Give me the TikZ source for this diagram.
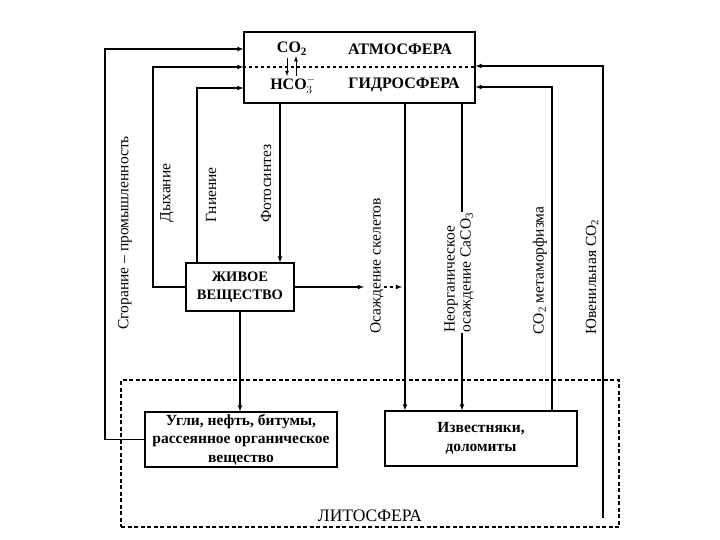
\documentclass[tikz,border=0pt]{standalone}
\usepackage{fontspec}
\setmainfont{Liberation Serif}

\begin{document}
\begin{tikzpicture}[x=1pt,y=-1pt,line width=1.1pt,
    box/.style={draw,align=center,inner sep=0pt,font=\fontsize{15.5}{18.5}\selectfont\bfseries},
    word/.style={inner sep=0pt,font=\fontsize{16}{18}\selectfont\bfseries},
    flow/.style={rotate=90,anchor=west,inner sep=0pt,align=left,font=\fontsize{15.5}{16}\selectfont}]
    \useasboundingbox (0,0) rectangle (720,540);
    % boxes
    \node[box,minimum width=231,minimum height=71] (sea) at (359.5,67.5) {};
    \node[box,minimum width=108,minimum height=48,font=\fontsize{14.5}{18}\selectfont\bfseries] (life) at (240,287) {ЖИВОЕ\\ВЕЩЕСТВО};
    \node[box,minimum width=192,minimum height=55] (coal) at (241,439.5) {Угли, нефть, битумы,\\рассеянное органическое\\вещество};
    \node[box,minimum width=192,minimum height=55] (lime) at (481,438.5) {Известняки,\\доломиты};
    \node[draw,dash pattern=on 4pt off 2.5pt,minimum width=498,minimum height=147] (litho) at (370,453.5) {};
    \node[inner sep=0pt,font=\fontsize{17.5}{19}\selectfont] (lithoname) at (370,516) {ЛИТОСФЕРА};
    % inside the top box
    \node[word] (co2) at (292,49) {CO\textsubscript{2}};
    \node[word] (hco3) at (293,85) {HCO$_{3}^{-}$};
    \node[word] (atmo) at (400,49) {АТМОСФЕРА};
    \node[word] (hydro) at (404,85) {ГИДРОСФЕРА};
    \draw[dashed] (sea.west |- 0,67) -- (sea.east |- 0,67);
    \draw[-latex,line width=0.8pt] ([xshift=-5]co2.south) ++(0,2) -- ([xshift=-6]hco3.north);
    \draw[-latex,line width=0.8pt] ([xshift=3]hco3.north) -- ([xshift=4]co2.south);
    % turning points
    \coordinate (burn) at (105,49);
    \coordinate (breath) at (153,67);
    \coordinate (rot) at (197,88);
    \coordinate (photo) at (280,0);
    \coordinate (skel) at (405,0);
    \coordinate (inorg) at (462,0);
    \coordinate (meta) at (552,87);
    \coordinate (juv) at (603,66);
    \coordinate (juvbot) at (603,518);
    \coordinate (skelgap) at (364,287);
    \coordinate (skelrun) at (384,287);
    % connectors
    \draw[-latex] (coal.west) -| (burn) -- (burn -| sea.west);
    \draw[-latex] (life.west) -| (breath) -- (breath -| sea.west);
    \draw[-latex] (life.north -| rot) -- (rot) -- (rot -| sea.west);
    \draw[-latex] (sea.south -| photo) -- (life.north -| photo);
    \draw[-latex] (sea.south -| skel) -- (lime.north -| skel);
    \draw[-latex] (sea.south -| inorg) -- (lime.north -| inorg);
    \draw[-latex] (lime.north -| meta) -- (meta) -- (meta -| sea.east);
    \draw[-latex] (juvbot) -- (juv) -- (juv -| sea.east);
    \draw[-latex] (life.east) -- (skelgap);
    \draw[-latex,dashed] (skelrun) -- ([xshift=-3]skelrun -| skel);
    \draw[-latex] (life.south) -- (coal.north -| life.south);
    % labels along the flows
    \node[flow] (burnlbl) at (125,330) {Сгорание -- промышленность};
    \node[flow] (breathlbl) at (167,223) {Дыхание};
    \node[flow] (rotlbl) at (211,223) {Гниение};
    \node[flow] (photolbl) at (266,223) {Фотосинтез};
    \node[flow] (skellbl) at (377,334) {Осаждение скелетов};
    \node[flow,fill=white,inner sep=1pt] (inorglbl) at (459,334) {Неорганическое\\осаждение CaCO\textsubscript{3}};
    \node[flow] (metalbl) at (540,335) {CO\textsubscript{2} метаморфизма};
    \node[flow] (juvlbl) at (592,335) {Ювенильная CO\textsubscript{2}};
\end{tikzpicture}
\end{document}
